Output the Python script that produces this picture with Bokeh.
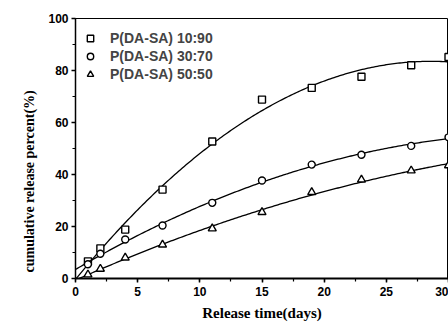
import numpy as np
from bokeh.plotting import figure
from bokeh.models import Range1d, SingleIntervalTicker, Legend, LegendItem, Title
from bokeh.embed import file_html
from bokeh.resources import INLINE

days = [1, 2, 4, 7, 11, 15, 19, 23, 27, 30]
s_10_90 = [6.6, 11.6, 18.8, 34.2, 52.7, 68.8, 73.3, 77.6, 82.0, 85.2]
s_30_70 = [5.5, 9.5, 15.0, 20.4, 29.1, 37.7, 43.8, 47.6, 51.0, 54.3]
s_50_50 = [1.5, 3.7, 8.0, 13.0, 19.2, 25.5, 33.2, 38.0, 41.5, 43.5]
labels = ["P(DA-SA) 10:90", "P(DA-SA) 30:70", "P(DA-SA) 50:50"]
markers = ["square", "circle", "triangle"]
x_title = "Release time(days)"
y_title = "cumulative release percent(%)"

p = figure(width=448, height=325, output_backend="svg", toolbar_location=None,
           x_range=Range1d(0, 30), y_range=Range1d(0, 100),
           min_border_left=75, min_border_right=0, min_border_top=18, min_border_bottom=47)
p.xgrid.visible = False
p.ygrid.visible = False
p.outline_line_color = "black"
p.outline_line_width = 1
p.background_fill_color = "white"
p.border_fill_color = "white"

xfit = np.linspace(0, 30, 200)
items = []
for ys, lab, mk in zip([s_10_90, s_30_70, s_50_50], labels, markers):
    coef = np.polyfit(days, ys, 2)
    p.line(xfit, np.polyval(coef, xfit), line_color="black", line_width=1.3)
    size = 7 if mk != "triangle" else 8
    r = p.scatter(days, ys, marker=mk, size=size, line_color="black", line_width=1.4,
                  fill_color="white")
    items.append(LegendItem(label=lab, renderers=[r]))

legend = Legend(items=items, location=(5, 196), margin=0, padding=0,
                glyph_width=20, glyph_height=16, label_height=16, spacing=2,
                label_standoff=10, border_line_color=None, background_fill_alpha=0,
                label_text_font="Liberation Sans", label_text_font_style="bold",
                label_text_font_size="14px")
p.add_layout(legend)

p.xaxis.ticker = SingleIntervalTicker(interval=5, num_minor_ticks=2)
p.yaxis.ticker = SingleIntervalTicker(interval=20, num_minor_ticks=2)
for ax in (p.xaxis, p.yaxis):
    ax.major_tick_in = 0
    ax.major_tick_out = 4
    ax.minor_tick_in = 0
    ax.minor_tick_out = 3
    ax.axis_line_color = "black"
    ax.major_tick_line_color = "black"
    ax.minor_tick_line_color = "black"
    ax.major_tick_line_width = 1.5
    ax.minor_tick_line_width = 1.2
    ax.major_label_text_font = "Liberation Sans"
    ax.major_label_text_font_style = "bold"
    ax.major_label_text_font_size = "12px"
    ax.major_label_text_color = "black"
p.xaxis.axis_line_width = 2
p.yaxis.axis_line_width = 1.5
p.xaxis.axis_label = x_title
p.xaxis.axis_label_text_font = "Liberation Serif"
p.xaxis.axis_label_text_font_style = "bold"
p.xaxis.axis_label_text_color = "black"
p.xaxis.axis_label_text_font_size = "15px"
p.xaxis.major_label_standoff = 4
p.yaxis.major_label_standoff = 3
p.xaxis.axis_label_standoff = 6

ytitle = Title(text=y_title, align="left", offset=6, standoff=18,
               text_font="Liberation Serif", text_font_style="bold", text_font_size="14px",
               text_color="black")
p.add_layout(ytitle, "left")

open("out.html", "w").write(file_html(p, INLINE))
